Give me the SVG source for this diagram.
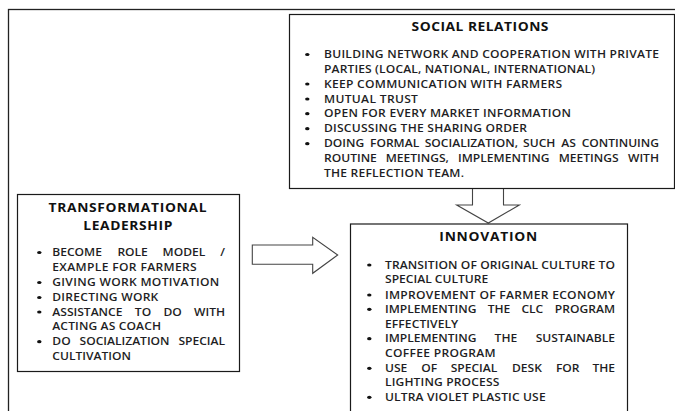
<svg xmlns="http://www.w3.org/2000/svg" width="675" height="411" viewBox="0 0 675 411">
<style>
.box{fill:#fff;stroke:#1a1a1a;stroke-width:1.2}
.frame{fill:none;stroke:#222;stroke-width:1.3}
.arrow{fill:#fff;stroke:#444;stroke-width:1.1}
.t{font-family:"Open Sans","Liberation Sans",Arial,sans-serif;font-size:10.5px;font-weight:600;fill:#1e1e24}
.h{font-family:"Open Sans","Liberation Sans",Arial,sans-serif;font-size:12px;font-weight:bold;fill:#111;text-anchor:middle}
.e{text-anchor:end}
.b{fill:#111}
</style>
<rect class="frame" x="8.5" y="9.5" width="700" height="500"/>
<g id="connectors">
<polygon class="arrow" points="252.3,245 312.7,245 312.7,237.3 337.7,255 312.7,273.3 312.7,264.3 252.3,264.3"/>
<polygon class="arrow" points="472.5,188.5 472.5,205 456.7,205 488.3,223 519.3,205 503.5,205 503.5,188.5"/>
</g>
<g id="social-relations">
<rect class="box" x="289.5" y="14.5" width="385" height="174"/>
<text class="h" transform="matrix(1.15 0 0 1 480 30.5)" textLength="119.1" lengthAdjust="spacing">SOCIAL RELATIONS</text>
<g class="b">
<ellipse cx="307.3" cy="54.5" rx="2.2" ry="1.6"/>
<ellipse cx="307.3" cy="84" rx="2.2" ry="1.6"/>
<ellipse cx="307.3" cy="99" rx="2.2" ry="1.6"/>
<ellipse cx="307.3" cy="113.7" rx="2.2" ry="1.6"/>
<ellipse cx="307.3" cy="128.7" rx="2.2" ry="1.6"/>
<ellipse cx="307.3" cy="143.7" rx="2.2" ry="1.6"/>
</g>
<text class="t" transform="matrix(1.15 0 0 1 324 58)" textLength="291.3" lengthAdjust="spacing">BUILDING NETWORK AND COOPERATION WITH PRIVATE</text>
<text class="t" transform="matrix(1.15 0 0 1 324 73)" textLength="235.7" lengthAdjust="spacing">PARTIES (LOCAL, NATIONAL, INTERNATIONAL)</text>
<text class="t" transform="matrix(1.15 0 0 1 324 87.5)" textLength="207" lengthAdjust="spacing">KEEP COMMUNICATION WITH FARMERS</text>
<text class="t" transform="matrix(1.15 0 0 1 324 102.5)" textLength="81.7" lengthAdjust="spacing">MUTUAL TRUST</text>
<text class="t" transform="matrix(1.15 0 0 1 324 117)" textLength="214.8" lengthAdjust="spacing">OPEN FOR EVERY MARKET INFORMATION</text>
<text class="t" transform="matrix(1.15 0 0 1 324 132)" textLength="176.5" lengthAdjust="spacing">DISCUSSING THE SHARING ORDER</text>
<text class="t" transform="matrix(1.15 0 0 1 324 147)"><tspan x="0">DOING</tspan><tspan x="40">FORMAL</tspan><tspan x="87.6">SOCIALIZATION,</tspan><tspan x="173.1">SUCH</tspan><tspan x="206.4">AS</tspan><tspan class="e" x="291.3">CONTINUING</tspan></text>
<text class="t" transform="matrix(1.15 0 0 1 324 162)"><tspan x="0">ROUTINE</tspan><tspan x="53.7">MEETINGS,</tspan><tspan x="116.6">IMPLEMENTING</tspan><tspan x="204.1">MEETINGS</tspan><tspan class="e" x="291.3">WITH</tspan></text>
<text class="t" transform="matrix(1.15 0 0 1 324 176.5)" textLength="121.7" lengthAdjust="spacing">THE REFLECTION TEAM.</text>
</g>
<g id="transformational-leadership">
<rect class="box" x="17.5" y="194.5" width="222" height="177"/>
<text class="h" transform="matrix(1.15 0 0 1 127.5 211.5)" textLength="137.4" lengthAdjust="spacing">TRANSFORMATIONAL</text>
<text class="h" transform="matrix(1.15 0 0 1 127.8 229.5)" textLength="77.4" lengthAdjust="spacing">LEADERSHIP</text>
<g class="b">
<ellipse cx="39.3" cy="252.5" rx="2.2" ry="1.6"/>
<ellipse cx="39.3" cy="282.5" rx="2.2" ry="1.6"/>
<ellipse cx="39.3" cy="297.5" rx="2.2" ry="1.6"/>
<ellipse cx="39.3" cy="312" rx="2.2" ry="1.6"/>
<ellipse cx="39.3" cy="341.7" rx="2.2" ry="1.6"/>
</g>
<text class="t" transform="matrix(1.15 0 0 1 52.3 256)"><tspan x="0">BECOME</tspan><tspan x="56.6">ROLE</tspan><tspan x="95.9">MODEL</tspan><tspan class="e" x="150.2">/</tspan></text>
<text class="t" transform="matrix(1.15 0 0 1 52.3 271)" textLength="125.6" lengthAdjust="spacing">EXAMPLE FOR FARMERS</text>
<text class="t" transform="matrix(1.15 0 0 1 52.3 286)" textLength="145.2" lengthAdjust="spacing">GIVING WORK MOTIVATION</text>
<text class="t" transform="matrix(1.15 0 0 1 52.3 301)" textLength="92.2" lengthAdjust="spacing">DIRECTING WORK</text>
<text class="t" transform="matrix(1.15 0 0 1 52.3 315.7)"><tspan x="0">ASSISTANCE</tspan><tspan x="71.8">TO</tspan><tspan x="96.6">DO</tspan><tspan class="e" x="150.2">WITH</tspan></text>
<text class="t" transform="matrix(1.15 0 0 1 52.3 330)" textLength="94.5" lengthAdjust="spacing">ACTING AS COACH</text>
<text class="t" transform="matrix(1.15 0 0 1 52.3 345.4)"><tspan x="0">DO</tspan><tspan x="23.7">SOCIALIZATION</tspan><tspan class="e" x="150.2">SPECIAL</tspan></text>
<text class="t" transform="matrix(1.15 0 0 1 52.3 360)" textLength="68.4" lengthAdjust="spacing">CULTIVATION</text>
</g>
<g id="innovation">
<rect class="box" x="350.5" y="224" width="277" height="200"/>
<text class="h" transform="matrix(1.15 0 0 1 488.3 241)" textLength="85.2" lengthAdjust="spacing">INNOVATION</text>
<g class="b">
<ellipse cx="369.3" cy="265" rx="2.2" ry="1.6"/>
<ellipse cx="369.3" cy="295" rx="2.2" ry="1.6"/>
<ellipse cx="369.3" cy="309.3" rx="2.2" ry="1.6"/>
<ellipse cx="369.3" cy="338.7" rx="2.2" ry="1.6"/>
<ellipse cx="369.3" cy="368.3" rx="2.2" ry="1.6"/>
<ellipse cx="369.3" cy="397.3" rx="2.2" ry="1.6"/>
</g>
<text class="t" transform="matrix(1.15 0 0 1 385 268.7)" textLength="200" lengthAdjust="spacing">TRANSITION OF ORIGINAL CULTURE TO</text>
<text class="t" transform="matrix(1.15 0 0 1 385 283)" textLength="89.8" lengthAdjust="spacing">SPECIAL CULTURE</text>
<text class="t" transform="matrix(1.15 0 0 1 385 298.7)" textLength="200" lengthAdjust="spacing">IMPROVEMENT OF FARMER ECONOMY</text>
<text class="t" transform="matrix(1.15 0 0 1 385 313)"><tspan x="0">IMPLEMENTING</tspan><tspan x="89.3">THE</tspan><tspan x="118.6">CLC</tspan><tspan class="e" x="200">PROGRAM</tspan></text>
<text class="t" transform="matrix(1.15 0 0 1 385 327.7)" textLength="63.7" lengthAdjust="spacing">EFFECTIVELY</text>
<text class="t" transform="matrix(1.15 0 0 1 385 342.4)"><tspan x="0">IMPLEMENTING</tspan><tspan x="95.3">THE</tspan><tspan class="e" x="200">SUSTAINABLE</tspan></text>
<text class="t" transform="matrix(1.15 0 0 1 385 357)" textLength="96.3" lengthAdjust="spacing">COFFEE PROGRAM</text>
<text class="t" transform="matrix(1.15 0 0 1 385 372)"><tspan x="0">USE</tspan><tspan x="31.6">OF</tspan><tspan x="57.1">SPECIAL</tspan><tspan x="110.4">DESK</tspan><tspan x="148.6">FOR</tspan><tspan class="e" x="200">THE</tspan></text>
<text class="t" transform="matrix(1.15 0 0 1 385 386.4)" textLength="99.4" lengthAdjust="spacing">LIGHTING PROCESS</text>
<text class="t" transform="matrix(1.15 0 0 1 385 401)" textLength="139.7" lengthAdjust="spacing">ULTRA VIOLET PLASTIC USE</text>
</g>
</svg>
